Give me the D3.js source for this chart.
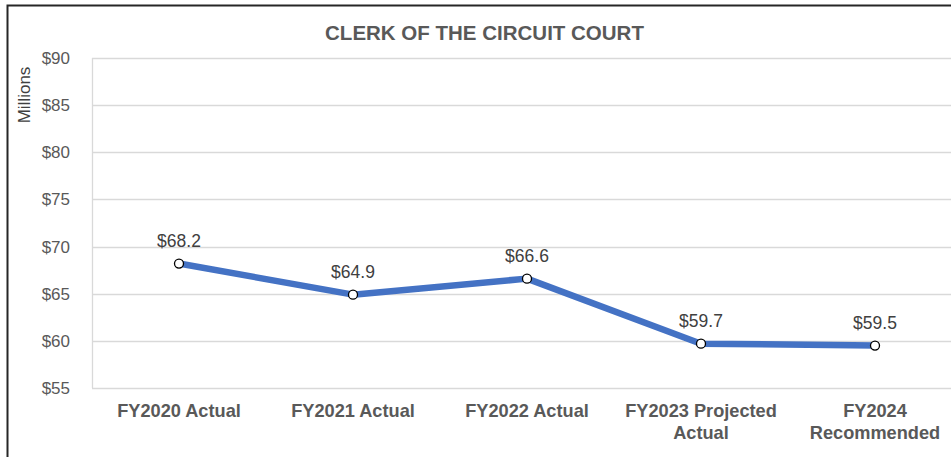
<!DOCTYPE html>
<html lang="en">
<head>
<meta charset="UTF-8">
<title>Clerk of the Circuit Court</title>
<script src="https://cdn.jsdelivr.net/npm/d3@7"></script>
<style>
  body { margin: 0; background: #fff; }
  svg { display: block; font-family: "Liberation Sans", Arial, sans-serif; }
</style>
</head>
<body>
<script>
  const categories = [["FY2020 Actual"], ["FY2021 Actual"], ["FY2022 Actual"], ["FY2023 Projected", "Actual"], ["FY2024", "Recommended"]];
  const values = [68.2, 64.9, 66.6, 59.7, 59.5];
  const yTicks = [55, 60, 65, 70, 75, 80, 85, 90];

  const width = 951, height = 457;
  const margin = { left: 92, right: -11, top: 58, bottom: 69 };

  const svg = d3.select("body").append("svg")
      .attr("width", width)
      .attr("height", height);

  // chart border (runs off the right and bottom edge)
  svg.append("rect")
      .attr("x", 7.5).attr("y", 5.5)
      .attr("width", 960).attr("height", 460)
      .attr("fill", "none")
      .attr("stroke", "#262626")
      .attr("stroke-width", 2);

  const x = d3.scaleBand()
      .domain(d3.range(categories.length))
      .range([margin.left, width - margin.right]);

  const y = d3.scaleLinear()
      .domain([55, 90])
      .range([height - margin.bottom, margin.top]);

  // gridlines
  svg.append("g")
      .selectAll("line")
      .data(yTicks)
      .enter()
      .append("line")
      .attr("x1", margin.left)
      .attr("x2", width)
      .attr("y1", d => Math.round(y(d)) + 0.5)
      .attr("y2", d => Math.round(y(d)) + 0.5)
      .attr("stroke", "#d9d9d9")
      .attr("stroke-width", 1.3);

  svg.append("line")
      .attr("x1", margin.left + 0.5).attr("x2", margin.left + 0.5)
      .attr("y1", y(90)).attr("y2", y(55))
      .attr("stroke", "#d9d9d9")
      .attr("stroke-width", 1.3);

  // y tick labels
  svg.append("g")
      .selectAll("text")
      .data(yTicks)
      .enter()
      .append("text")
      .attr("x", 70)
      .attr("y", d => y(d))
      .attr("dy", "0.35em")
      .attr("text-anchor", "end")
      .attr("fill", "#595959")
      .style("font-size", "17px")
      .text(d => "$" + d);

  svg.append("text")
      .attr("transform", "translate(29.5, 95) rotate(-90)")
      .attr("text-anchor", "middle")
      .attr("fill", "#404040")
      .style("font-size", "17px")
      .text("Millions");

  // title
  svg.append("text")
      .attr("x", 484.5)
      .attr("y", 40)
      .attr("text-anchor", "middle")
      .attr("fill", "#595959")
      .style("font-size", "20.5px")
      .style("font-weight", "bold")
      .text("CLERK OF THE CIRCUIT COURT");

  // category labels
  const cx = i => x(i) + x.bandwidth() / 2;
  const catLabels = svg.append("g")
      .selectAll("text")
      .data(categories)
      .enter()
      .append("text")
      .attr("x", (d, i) => cx(i))
      .attr("y", 417)
      .attr("text-anchor", "middle")
      .attr("fill", "#595959")
      .style("font-size", "18.2px")
      .style("font-weight", "bold");

  catLabels.selectAll("tspan")
      .data(d => d)
      .enter()
      .append("tspan")
      .attr("x", function () { return d3.select(this.parentNode).attr("x"); })
      .attr("dy", (d, i) => i === 0 ? 0 : 21.5)
      .text(d => d);

  // line
  const line = d3.line()
      .x((d, i) => cx(i))
      .y(d => y(d));

  svg.append("path")
      .datum(values)
      .attr("d", line)
      .attr("fill", "none")
      .attr("stroke", "#4472c4")
      .attr("stroke-width", 6.5)
      .attr("stroke-linejoin", "round");

  svg.append("g")
      .selectAll("circle")
      .data(values)
      .enter()
      .append("circle")
      .attr("cx", (d, i) => cx(i))
      .attr("cy", d => y(d))
      .attr("r", 4.5)
      .attr("fill", "#fff")
      .attr("stroke", "#000")
      .attr("stroke-width", 1.3);

  // data labels
  svg.append("g")
      .selectAll("text")
      .data(values)
      .enter()
      .append("text")
      .attr("x", (d, i) => cx(i))
      .attr("y", d => y(d) - 16.5)
      .attr("text-anchor", "middle")
      .attr("fill", "#404040")
      .style("font-size", "17.5px")
      .text(d => "$" + d.toFixed(1));
</script>
</body>
</html>
